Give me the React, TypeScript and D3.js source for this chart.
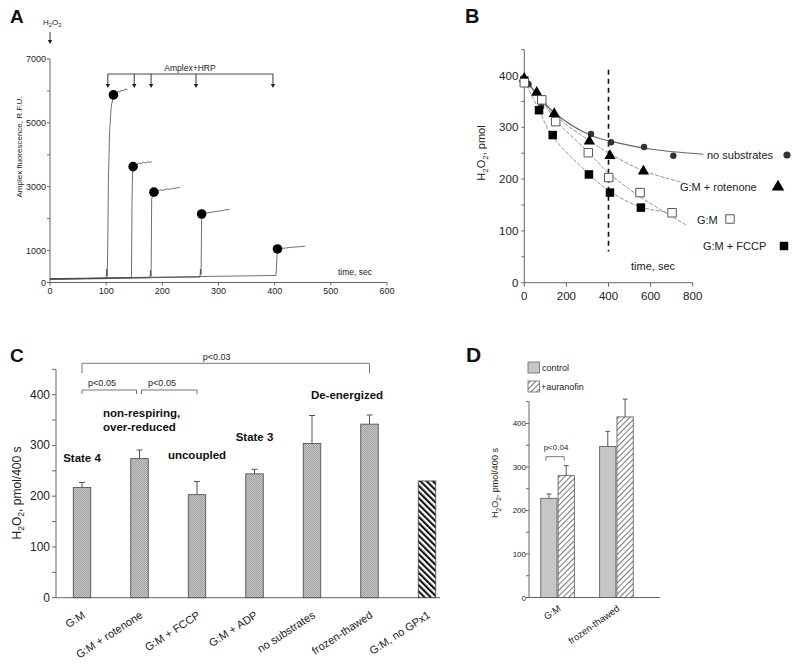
import React from "react";
import * as d3 from "d3";

type Pt = [number, number];

const FONT = "Liberation Sans, Arial, Helvetica, sans-serif";

// ---- panel A: Amplex fluorescence traces (time sec, RFU)
const timeTicksA = [0, 100, 200, 300, 400, 500, 600];
const rfuTicksA = [0, 1000, 3000, 5000, 7000];
const rfuMinorA = [2000, 4000, 6000];
const hrpAdds = [103, 150, 180, 260, 397];
const trace1: Pt[] = [[0, 100], [100, 120], [101, 420], [102, 200], [103, 1400], [104, 3200], [106, 4700], [109, 5500], [113, 5875], [116, 5930], [118, 5900], [121, 5990], [124, 5960], [127, 6030], [130, 6000], [134, 6060], [138, 6040]];
const trace2: Pt[] = [[0, 105], [145, 150], [146, 2500], [147, 3500], [148, 3630], [152, 3700], [155, 3680], [158, 3740], [162, 3720], [166, 3770], [170, 3740], [174, 3780], [178, 3760], [181, 3790]];
const trace3: Pt[] = [[0, 110], [178, 150], [179, 380], [180, 200], [181, 2600], [183, 2800], [185, 2830], [190, 2860], [196, 2900], [202, 2890], [208, 2930], [214, 2920], [220, 2950], [226, 2960], [231, 2980]];
const trace4: Pt[] = [[0, 110], [267, 170], [268, 420], [269, 250], [270, 2145], [276, 2170], [283, 2190], [290, 2210], [297, 2230], [304, 2240], [311, 2270], [320, 2290]];
const trace5: Pt[] = [[0, 120], [402, 220], [403, 380], [404, 800], [405, 1050], [412, 1070], [420, 1080], [428, 1100], [436, 1110], [444, 1120], [454, 1135]];
const peaksA: Pt[] = [[113, 5875], [148, 3630], [185, 2830], [270, 2145], [405, 1050]];

// ---- panel B: H2O2 remaining (time sec, pmol)
const timeTicksB = [0, 200, 400, 600, 800];
const pmolTicksB = [0, 100, 200, 300, 400];
const noSubstrates: Pt[] = [[20, 383], [80, 340], [317, 287], [412, 271], [569, 262], [708, 245]];
const gmRotenone: Pt[] = [[0, 394], [59, 367], [142, 326], [309, 273], [407, 245], [566, 215]];
const gm: Pt[] = [[0, 386], [83, 353], [149, 311], [304, 251], [401, 203], [550, 174], [702, 135]];
const gmFccp: Pt[] = [[0, 390], [70, 333], [135, 285], [307, 209], [407, 174], [554, 145]];
const noSubstratesFit: Pt[] = [[0, 396], [138, 330], [312, 285], [455, 269], [613, 257], [851, 248]];
const gmRotenoneFit: Pt[] = [[0, 394], [140, 325], [310, 274], [410, 248], [566, 216], [756, 193]];
const gmFit: Pt[] = [[0, 390], [83, 352], [149, 314], [304, 252], [401, 212], [550, 166], [771, 111]];
const gmFccpFit: Pt[] = [[0, 390], [70, 333], [133, 283], [307, 210], [407, 176], [554, 146], [700, 135]];

// ---- panel C: H2O2 consumed per 400 s
const catsC = ["G:M", "G:M + rotenone", "G:M + FCCP", "G:M + ADP", "no substrates", "frozen-thawed", "G:M, no GPx1"];
const meansC = [217, 274, 203, 244, 304, 342, 230];
const errC = [10, 17, 26, 9, 55, 18, 0];
const pmolTicksC = [0, 100, 200, 300, 400];

// ---- panel D: auranofin
const groupsD = ["G:M", "frozen-thawed"];
const seriesD = ["control", "+auranofin"];
const controlD = [228, 347];
const controlErrD = [10, 35];
const auranofinD = [280, 415];
const auranofinErrD = [23, 41];
const pmolTicksD = [0, 100, 200, 300, 400];

const H2O2 = ({ size, rest }: { size: number; rest: string }) => (
  <>
    H<tspan fontSize={size * 0.72} dy={size * 0.28}>2</tspan>
    <tspan dy={-size * 0.28}>O</tspan>
    <tspan fontSize={size * 0.72} dy={size * 0.28}>2</tspan>
    <tspan dy={-size * 0.28}>{rest}</tspan>
  </>
);

// small down arrow: shaft plus filled head, tip at y1
const DownArrow = ({ x, y0, y1 }: { x: number; y0: number; y1: number }) => (
  <g>
    <line x1={x} x2={x} y1={y0} y2={y1 - 3} stroke="#222" strokeWidth={0.9} />
    <path d={`M${x - 2.2},${y1 - 4} L${x + 2.2},${y1 - 4} L${x},${y1} Z`} fill="#222" />
  </g>
);

export default function App() {
  // scales
  const xA = d3.scaleLinear().domain([0, 600]).range([50, 387]);
  const yA = d3.scaleLinear().domain([0, 7000]).range([282.5, 59]);
  const lineA = d3.line<Pt>().x((d) => xA(d[0])).y((d) => yA(d[1]));

  const xB = d3.scaleLinear().domain([0, 800]).range([524.3, 692.7]);
  const yB = d3.scaleLinear().domain([0, 450]).range([282.7, 49.6]);
  const fitB = d3.line<Pt>().x((d) => xB(d[0])).y((d) => yB(d[1])).curve(d3.curveCatmullRom);

  const xC = d3.scalePoint<string>().domain(catsC).range([82, 427]);
  const yC = d3.scaleLinear().domain([0, 450]).range([597.7, 369.3]);
  const bwC = 17.5;

  const xD0 = d3.scaleBand<string>().domain(groupsD).range([529, 645]).paddingInner(0.43).paddingOuter(0.2);
  const xD1 = d3.scaleBand<string>().domain(seriesD).range([0, xD0.bandwidth()]).paddingInner(0.06);
  const yD = d3.scaleLinear().domain([0, 450]).range([597.5, 401.7]);

  const tri = d3.symbol(d3.symbolTriangle, 55)()!;
  const triLeg = d3.symbol(d3.symbolTriangle, 68)()!;
  const sq = d3.symbol(d3.symbolSquare, 72)()!;

  const axis = "#666";
  const txt = "#222";

  const errBar = (x: number, y0: number, y1: number, cap: number, key: string) => (
    <g key={key} stroke="#555" strokeWidth={1}>
      <line x1={x} x2={x} y1={y0} y2={y1} />
      <line x1={x - cap / 2} x2={x + cap / 2} y1={y1} y2={y1} />
    </g>
  );

  return (
    <svg width={800} height={667} style={{ position: "absolute", left: 0, top: 0, background: "white" }} fontFamily={FONT}>
      <defs>
        <pattern id="dotsC" width="2" height="2" patternUnits="userSpaceOnUse">
          <rect width="2" height="2" fill="#c4c4c4" shapeRendering="crispEdges" />
          <rect width="1" height="1" fill="#a2a2a2" shapeRendering="crispEdges" />
          <rect x="1" y="1" width="1" height="1" fill="#a2a2a2" shapeRendering="crispEdges" />
        </pattern>
        <pattern id="stripesC" width="4.4" height="4.4" patternUnits="userSpaceOnUse" patternTransform="rotate(-45)">
          <rect width="4.4" height="4.4" fill="white" />
          <rect width="2.1" height="4.4" fill="#111" />
        </pattern>
        <pattern id="hatchD" width="4" height="4" patternUnits="userSpaceOnUse" patternTransform="rotate(45)">
          <rect width="4" height="4" fill="white" />
          <rect width="1" height="4" fill="#777" />
        </pattern>
      </defs>

      {/* ================= A ================= */}
      <text x={10} y={23} fontSize={19} fontWeight="bold" fill="#111">A</text>
      <text x={43} y={25} fontSize={8} fill={txt}><H2O2 size={8} rest="" /></text>
      <DownArrow x={xA(0)} y0={32} y1={44} />

      <line x1={xA(0)} x2={xA(0)} y1={yA(7000)} y2={yA(0)} stroke={axis} />
      <line x1={xA(0)} x2={xA(600)} y1={yA(0)} y2={yA(0)} stroke={axis} />
      {[...rfuTicksA, ...rfuMinorA].map((t) => (
        <line key={"ya" + t} x1={xA(0) - 3} x2={xA(0)} y1={yA(t)} y2={yA(t)} stroke={axis} />
      ))}
      {rfuTicksA.map((t) => (
        <text key={"yal" + t} x={xA(0) - 4} y={yA(t) + 3} fontSize={9} textAnchor="end" fill={txt}>{t}</text>
      ))}
      {timeTicksA.map((t) => (
        <g key={"xa" + t}>
          <line x1={xA(t)} x2={xA(t)} y1={yA(0)} y2={yA(0) + 3} stroke={axis} />
          <text x={xA(t)} y={yA(0) + 11} fontSize={9} textAnchor="middle" fill={txt}>{t}</text>
        </g>
      ))}
      <text transform={`translate(22,147) rotate(-90)`} fontSize={8} textAnchor="middle" fill={txt}>Amplex fluorescence, R.F.U.</text>
      <text x={355} y={275} fontSize={8.5} textAnchor="middle" fill={txt}>time, sec</text>

      <path d={`M${xA(hrpAdds[0])},74 H${xA(hrpAdds[hrpAdds.length - 1])}`} stroke="#444" fill="none" />
      {hrpAdds.map((t) => (
        <DownArrow key={"hrp" + t} x={xA(t)} y0={74} y1={88} />
      ))}
      <text x={190} y={71} fontSize={8.5} textAnchor="middle" fill={txt}>Amplex+HRP</text>

      {[trace1, trace2, trace3, trace4, trace5].map((tr, i) => (
        <path key={"tr" + i} d={lineA(tr)!} fill="none" stroke="#4a4a4a" strokeWidth={0.8} />
      ))}
      {peaksA.map((p, i) => (
        <circle key={"pk" + i} cx={xA(p[0])} cy={yA(p[1])} r={4.8} fill="#000" />
      ))}

      {/* ================= B ================= */}
      <text x={465} y={23} fontSize={20} fontWeight="bold" fill="#111">B</text>
      <line x1={xB(0)} x2={xB(0)} y1={yB(450)} y2={yB(0)} stroke={axis} />
      <line x1={xB(0)} x2={xB(800)} y1={yB(0)} y2={yB(0)} stroke={axis} />
      {d3.range(0, 451, 50).map((t) => (
        <line key={"yb" + t} x1={xB(0) - 3} x2={xB(0)} y1={yB(t)} y2={yB(t)} stroke={axis} />
      ))}
      {pmolTicksB.map((t) => (
        <text key={"ybl" + t} x={xB(0) - 6} y={yB(t) + 4} fontSize={11.5} textAnchor="end" fill={txt}>{t}</text>
      ))}
      {timeTicksB.map((t) => (
        <g key={"xb" + t}>
          <line x1={xB(t)} x2={xB(t)} y1={yB(0)} y2={yB(0) + 4} stroke={axis} />
          <text x={xB(t)} y={yB(0) + 17} fontSize={11.5} textAnchor="middle" fill={txt}>{t}</text>
        </g>
      ))}
      <text transform={`translate(485,153) rotate(-90)`} fontSize={11} textAnchor="middle" fill={txt}><H2O2 size={11} rest=", pmol" /></text>
      <text x={653} y={270} fontSize={11} textAnchor="middle" fill={txt}>time, sec</text>
      <line x1={xB(400)} x2={xB(400)} y1={yB(411)} y2={yB(60)} stroke="#111" strokeWidth={1.6} strokeDasharray="5,4" />

      <path d={fitB(noSubstratesFit)!} fill="none" stroke="#666" strokeWidth={1.1} />
      <path d={fitB(gmRotenoneFit)!} fill="none" stroke="#888" strokeWidth={0.9} strokeDasharray="4,1.5" />
      <path d={fitB(gmFit)!} fill="none" stroke="#888" strokeWidth={0.9} strokeDasharray="4,1.5" />
      <path d={fitB(gmFccpFit)!} fill="none" stroke="#888" strokeWidth={0.9} strokeDasharray="4,1.5" />

      {noSubstrates.map((p, i) => (
        <circle key={"ns" + i} cx={xB(p[0])} cy={yB(p[1])} r={3.2} fill="#333" />
      ))}
      {gmFccp.map((p, i) => (
        <path key={"fc" + i} d={sq} transform={`translate(${xB(p[0])},${yB(p[1])})`} fill="#000" />
      ))}
      {gmRotenone.map((p, i) => (
        <path key={"rt" + i} d={tri} transform={`translate(${xB(p[0])},${yB(p[1])})`} fill="#000" />
      ))}
      {gm.map((p, i) => (
        <path key={"gm" + i} d={sq} transform={`translate(${xB(p[0])},${yB(p[1])})`} fill="#fff" stroke="#555" strokeWidth={1} />
      ))}

      <text x={707} y={159} fontSize={11} fill={txt}>no substrates</text>
      <circle cx={787} cy={155} r={3.6} fill="#333" />
      <text x={680} y={191} fontSize={11} fill={txt}>G:M + rotenone</text>
      <path d={triLeg} transform="translate(778,187)" fill="#000" />
      <text x={697} y={224} fontSize={11} fill={txt}>G:M</text>
      <path d={sq} transform="translate(730,219)" fill="#fff" stroke="#555" strokeWidth={1} />
      <text x={703} y={250} fontSize={11} fill={txt}>G:M + FCCP</text>
      <path d={sq} transform="translate(784,246)" fill="#000" />

      {/* ================= C ================= */}
      <text x={10} y={362} fontSize={19} fontWeight="bold" fill="#111">C</text>
      <line x1={56} x2={56} y1={yC(450)} y2={yC(0)} stroke={axis} />
      <line x1={56} x2={440} y1={yC(0)} y2={yC(0)} stroke={axis} />
      {d3.range(0, 451, 50).map((t) => (
        <line key={"yc" + t} x1={52} x2={56} y1={yC(t)} y2={yC(t)} stroke={axis} />
      ))}
      {pmolTicksC.map((t) => (
        <text key={"ycl" + t} x={50} y={yC(t) + 4} fontSize={12} textAnchor="end" fill={txt}>{t}</text>
      ))}
      <text transform={`translate(21,493) rotate(-90)`} fontSize={12} textAnchor="middle" fill={txt}><H2O2 size={12} rest=", pmol/400 s" /></text>

      {catsC.map((c, i) => (
        <g key={"bc" + i}>
          <rect x={xC(c)! - bwC / 2} y={yC(meansC[i])} width={bwC} height={yC(0) - yC(meansC[i])}
            fill={i === catsC.length - 1 ? "url(#stripesC)" : "url(#dotsC)"} stroke="#444" strokeWidth={0.8} />
          {errC[i] > 0 && errBar(xC(c)!, yC(meansC[i]), yC(meansC[i] + errC[i]), 6, "ec" + i)}
          <text transform={`translate(${xC(c)! + 4},617) rotate(-33)`} fontSize={11} textAnchor="end" fill={txt}>{c}</text>
        </g>
      ))}

      {/* significance brackets */}
      <path d={`M${xC("G:M")},373.3 V363.3 H${xC("frozen-thawed")} V373.3`} fill="none" stroke="#777" />
      <text x={216.7} y={359.5} fontSize={9} textAnchor="middle" fill={txt}>p&lt;0.03</text>
      <path d={`M${xC("G:M")},394 V390 H${xC("G:M + rotenone")! - 3} V394`} fill="none" stroke="#777" />
      <text x={102} y={386} fontSize={9} textAnchor="middle" fill={txt}>p&lt;0.05</text>
      <path d={`M${xC("G:M + rotenone")! + 2},394 V390 H${xC("G:M + FCCP")} V394`} fill="none" stroke="#777" />
      <text x={162} y={386} fontSize={9} textAnchor="middle" fill={txt}>p&lt;0.05</text>

      <g fontSize={11.5} fontWeight="bold" fill="#111">
        <text x={xC("G:M")} y={462} textAnchor="middle">State 4</text>
        <text x={103} y={417}>non-respiring,</text>
        <text x={103} y={430.5}>over-reduced</text>
        <text x={xC("G:M + FCCP")} y={459} textAnchor="middle">uncoupled</text>
        <text x={xC("G:M + ADP")} y={440.5} textAnchor="middle">State 3</text>
        <text x={347} y={399} textAnchor="middle">De-energized</text>
      </g>

      {/* ================= D ================= */}
      <text x={466} y={362} fontSize={21} fontWeight="bold" fill="#111">D</text>
      <line x1={529} x2={529} y1={yD(450)} y2={yD(0)} stroke={axis} />
      <line x1={529} x2={660} y1={yD(0)} y2={yD(0)} stroke={axis} />
      {d3.range(0, 451, 50).map((t) => (
        <line key={"yd" + t} x1={526} x2={529} y1={yD(t)} y2={yD(t)} stroke={axis} />
      ))}
      {pmolTicksD.map((t) => (
        <text key={"ydl" + t} x={526} y={yD(t) + 3} fontSize={8} textAnchor="end" fill={txt}>{t}</text>
      ))}
      <text transform={`translate(498,483) rotate(-90)`} fontSize={9} textAnchor="middle" fill={txt}><H2O2 size={9} rest=", pmol/400 s" /></text>

      {groupsD.map((g, i) => {
        const x0 = xD0(g)!;
        const xc = x0 + xD1("control")!;
        const xa = x0 + xD1("+auranofin")!;
        const w = xD1.bandwidth();
        return (
          <g key={"gd" + i}>
            <rect x={xc} y={yD(controlD[i])} width={w} height={yD(0) - yD(controlD[i])} fill="#c6c6c6" stroke="#555" strokeWidth={0.8} />
            <rect x={xa} y={yD(auranofinD[i])} width={w} height={yD(0) - yD(auranofinD[i])} fill="url(#hatchD)" stroke="#555" strokeWidth={0.8} />
            {errBar(xc + w / 2, yD(controlD[i]), yD(controlD[i] + controlErrD[i]), 5, "ecd" + i)}
            {errBar(xa + w / 2, yD(auranofinD[i]), yD(auranofinD[i] + auranofinErrD[i]), 5, "ead" + i)}
            <text transform={`translate(${x0 + xD0.bandwidth() / 2 + 4},610) rotate(-35)`} fontSize={9.5} textAnchor="end" fill={txt}>{g}</text>
          </g>
        );
      })}
      <path d={`M${xD0("G:M")! + xD1("control")! + xD1.bandwidth() / 2 - 3},460.7 V456.7 H${xD0("G:M")! + xD1("+auranofin")! + xD1.bandwidth() / 2 - 2} V460.7`} fill="none" stroke="#777" />
      <text x={556} y={449.5} fontSize={8} textAnchor="middle" fill={txt}>p&lt;0.04</text>

      <rect x={528} y={362} width={11.5} height={11} fill="#c6c6c6" stroke="#666" strokeWidth={0.8} />
      <text x={542} y={371} fontSize={9} fill={txt}>{seriesD[0]}</text>
      <rect x={528} y={381} width={11.5} height={11} fill="url(#hatchD)" stroke="#666" strokeWidth={0.8} />
      <text x={541} y={390} fontSize={9} fill={txt}>{seriesD[1]}</text>
    </svg>
  );
}
